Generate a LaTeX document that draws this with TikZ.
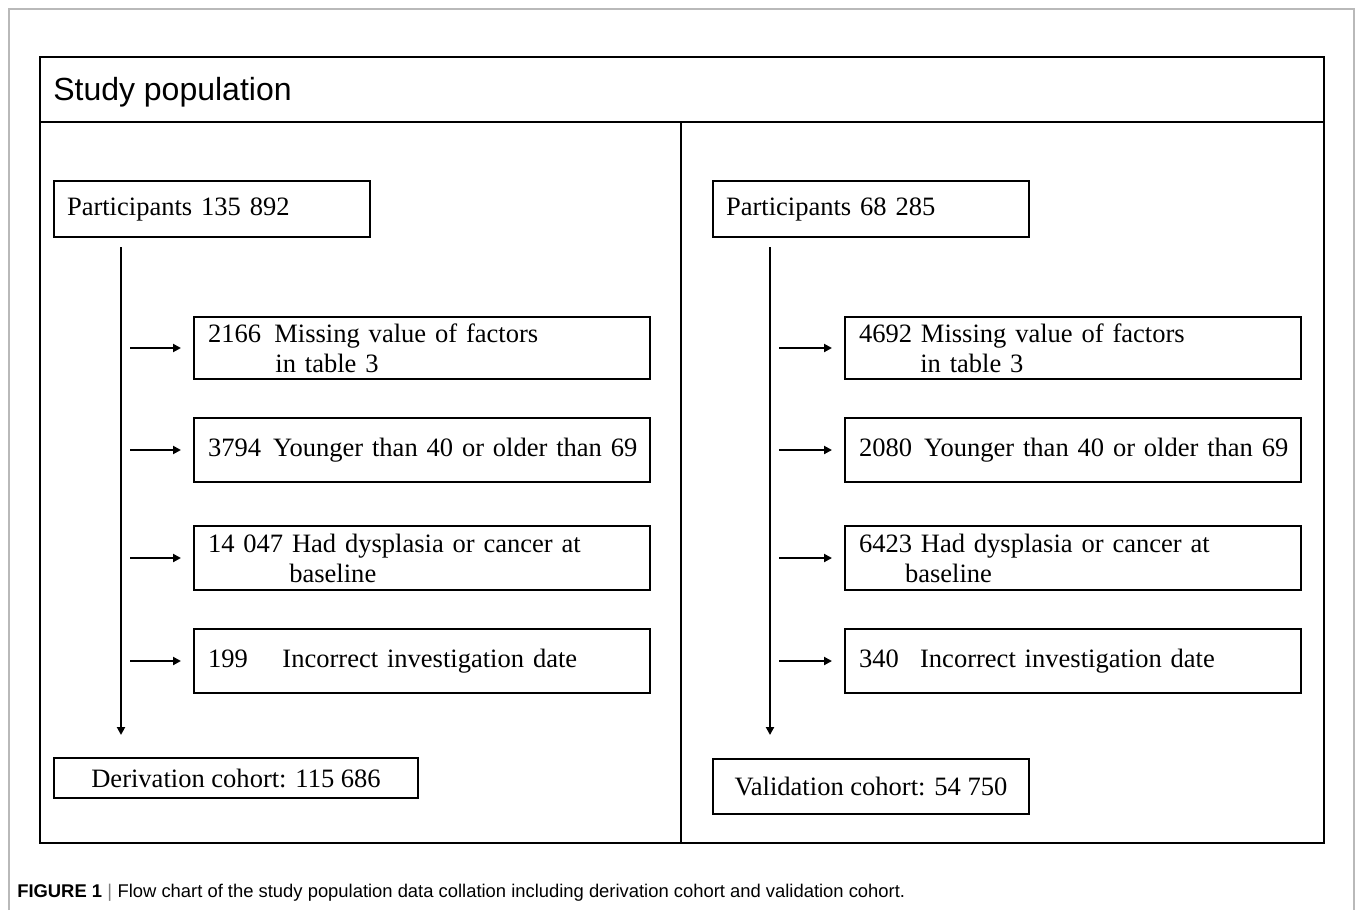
\documentclass[tikz,border=0pt]{standalone}
\usepackage{fontspec}
\setmainfont{Liberation Serif}
\setsansfont{Liberation Sans}
\usetikzlibrary{arrows.meta}
\begin{document}
\begin{tikzpicture}[x=0.75pt,y=-0.75pt,
  boxfont/.style={font=\fontsize{19.9pt}{22.5pt}\selectfont},
  stepbox/.style={draw,line width=1.5pt,rectangle,anchor=north west,boxfont,
     align=left,inner ysep=0pt},
  exbox/.style={stepbox,minimum width=456*0.75pt,minimum height=64*0.75pt,
     inner xsep=14*0.75pt,text width=428*0.75pt},
  arr/.style={line width=1.5pt,-{Triangle[length=6pt,width=6pt]}},
  frameline/.style={line width=2.2pt}]
\useasboundingbox (0,0) rectangle (1355,910);
\fill[white] (0,0) rectangle (1355,910);
% thin outer page frame
\draw[gray!55,line width=1.1pt] (9,910) -- (9,9) -- (1354,9) -- (1354,910);
% main frame
\draw[frameline] (40,57) rectangle (1324,843);
\draw[frameline] (40,122) -- (1324,122);
\draw[frameline] (681,122) -- (681,843);
\node[anchor=west,inner sep=0pt,font=\sffamily\fontsize{24pt}{28pt}\selectfont] (title) at (53,92) {Study population};

% ---------- left column ----------
\node[stepbox,minimum width=316*0.75pt,minimum height=56*0.75pt,inner xsep=13*0.75pt,text width=290*0.75pt] (P1) at (53,180) {Participants 135 892};
\node[exbox,minimum height=62*0.75pt] (L1) at (193,316) {2166\hspace{10pt}Missing value of factors\\\hspace*{50.6pt}in table 3};
\node[exbox] (L2) at (193,417) {\mbox{3794\hspace{9pt}Younger than 40 or older than 69}};
\node[exbox] (L3) at (193,525) {14 047 Had dysplasia or cancer at\\\hspace*{61pt}baseline};
\node[exbox] (L4) at (193,628) {\mbox{199\hspace{26pt}Incorrect investigation date}};
\node[stepbox,minimum width=364*0.75pt,minimum height=40*0.75pt,align=center,inner xsep=0pt] (D) at (53,757) {Derivation cohort: 115 686};
\coordinate (Ls) at (121,247);
\coordinate (Le) at (121,735);
\coordinate (Lx) at (130,0);
\draw[arr] (Ls) -- (Le);
\foreach \b in {L1,L2,L3,L4}{
  \draw[arr,shorten >=9pt] (\b.west -| Lx) -- (\b.west);
}

% ---------- right column ----------
\node[stepbox,minimum width=316*0.75pt,minimum height=56*0.75pt,inner xsep=13*0.75pt,text width=290*0.75pt] (P2) at (712,180) {Participants 68 285};
\node[exbox,minimum height=62*0.75pt] (R1) at (844,316) {4692 Missing value of factors\\\hspace*{46pt}in table 3};
\node[exbox] (R2) at (844,417) {\mbox{2080\hspace{9pt}Younger than 40 or older than 69}};
\node[exbox] (R3) at (844,525) {6423 Had dysplasia or cancer at\\\hspace*{34.5pt}baseline};
\node[exbox] (R4) at (844,628) {\mbox{340\hspace{16pt}Incorrect investigation date}};
\node[stepbox,minimum width=316*0.75pt,minimum height=55*0.75pt,align=center,inner xsep=0pt] (V) at (712,758) {Validation cohort: 54 750};
\coordinate (Rs) at (770,247);
\coordinate (Re) at (770,735);
\coordinate (Rx) at (779,0);
\draw[arr] (Rs) -- (Re);
\foreach \b in {R1,R2,R3,R4}{
  \draw[arr,shorten >=9pt] (\b.west -| Rx) -- (\b.west);
}

% caption
\node[anchor=west,inner sep=0pt,font=\sffamily\fontsize{13.8pt}{16pt}\selectfont] (cap) at (17,893)
  {\textbf{FIGURE 1}\hspace{4pt}{\color{gray}|}\hspace{4pt}Flow chart of the study population data collation including derivation cohort and validation cohort.};
\end{tikzpicture}
\end{document}
